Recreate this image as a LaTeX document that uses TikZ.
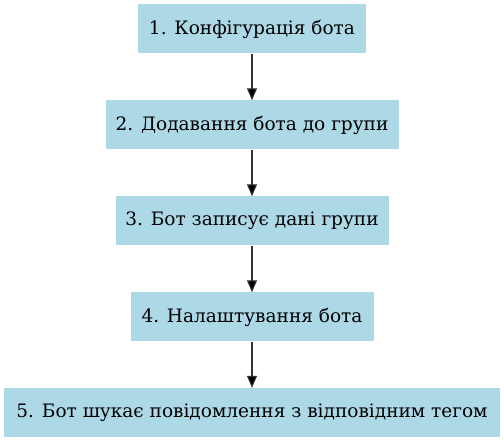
\documentclass[tikz,border=0pt]{standalone}
\usepackage{fontspec}
\setmainfont{DejaVu Serif}
\usetikzlibrary{arrows.meta}
\definecolor{stepblue}{RGB}{173,216,230}
\begin{document}
\begin{tikzpicture}[x=1pt, y=-1pt,
  stepbox/.style={rectangle, fill=stepblue, minimum height=49pt, inner sep=0pt, font=\fontsize{18.5}{22}\selectfont},
  flow/.style={draw=black!80, line width=1.1pt, -{Triangle[length=12pt, width=10pt, fill=black]}}]
\useasboundingbox (0, 0) rectangle (504, 443);

\node[stepbox, minimum width=228pt] (b1) at (252, 29) {1. Конфігурація бота};
\node[stepbox, minimum width=293pt] (b2) at (252, 125) {2. Додавання бота до групи};
\node[stepbox, minimum width=273pt] (b3) at (252, 221) {3. Бот записує дані групи};
\node[stepbox, minimum width=243pt] (b4) at (252, 317) {4. Налаштування бота};
\node[stepbox, minimum width=496pt] (b5) at (252, 412.5) {5. Бот шукає повідомлення з відповідним тегом};

\draw[flow] (b1.south) -- (b2.north);
\draw[flow] (b2.south) -- (b3.north);
\draw[flow] (b3.south) -- (b4.north);
\draw[flow] (b4.south) -- (b5.north);

\end{tikzpicture}
\end{document}
